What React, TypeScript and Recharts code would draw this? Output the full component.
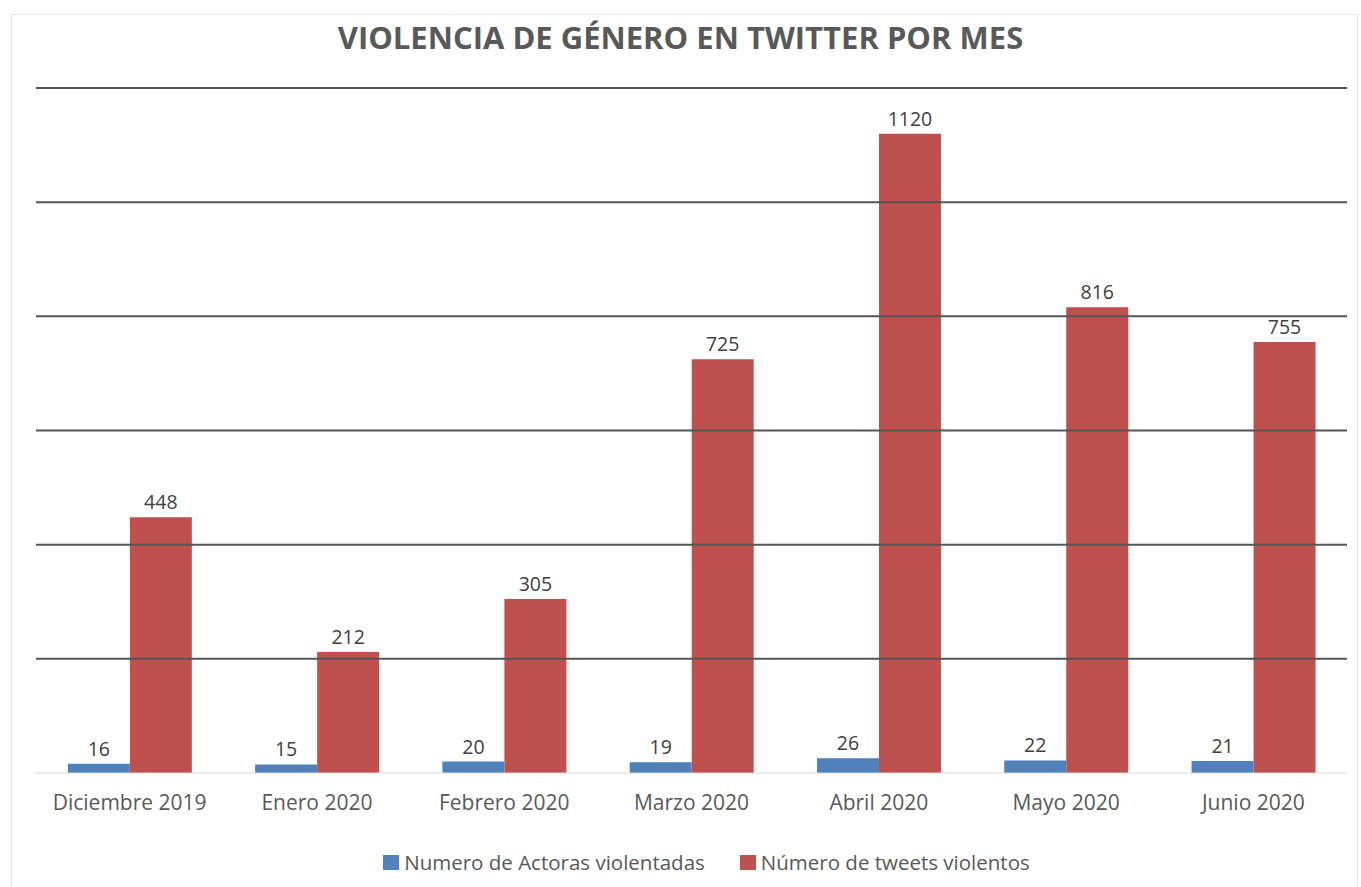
import { BarChart, Bar, XAxis, YAxis, ReferenceLine, Legend, LabelList } from "recharts";

const months = [
  "Diciembre 2019",
  "Enero 2020",
  "Febrero 2020",
  "Marzo 2020",
  "Abril 2020",
  "Mayo 2020",
  "Junio 2020",
];
const actoras = [16, 15, 20, 19, 26, 22, 21];
const tweets = [448, 212, 305, 725, 1120, 816, 755];
const yTicks = [0, 200, 400, 600, 800, 1000, 1200];

const data = months.map((m, i) => ({ month: m, actoras: actoras[i], tweets: tweets[i] }));

const FONT = "'Open Sans', sans-serif";

function CustomLegend(props: any) {
  const { payload } = props;
  return (
    <div
      style={{
        display: "flex",
        justifyContent: "center",
        paddingTop: 3,
        paddingLeft: 30,
        fontFamily: FONT,
        fontSize: 20.5,
        color: "#595959",
      }}
    >
      {payload.map((p: any, i: number) => (
        <div key={i} style={{ display: "flex", alignItems: "center", marginRight: i === 0 ? 35 : 0 }}>
          <span style={{ width: 16, height: 15, background: p.color, display: "inline-block", marginRight: 5 }} />
          <span>{p.value}</span>
        </div>
      ))}
    </div>
  );
}

export default function App() {
  return (
    <div style={{ position: "absolute", left: 0, top: 0, width: 1361, height: 887, background: "#fff", overflow: "hidden" }}>
      <div
        style={{
          position: "absolute",
          left: 11,
          top: 14,
          width: 1345,
          height: 880,
          borderTop: "1px solid #e6e6e6",
          borderLeft: "1px solid #e6e6e6",
          borderRight: "1px solid #e6e6e6",
        }}
      />
      <div
        style={{
          position: "absolute",
          left: 0,
          top: 16,
          width: 1361,
          textAlign: "center",
          fontFamily: FONT,
          fontWeight: 700,
          fontSize: 31,
          color: "#595959",
        }}
      >
        VIOLENCIA DE GÉNERO EN TWITTER POR MES
      </div>
      <div style={{ position: "absolute", left: 0, top: 0 }}>
        <BarChart
          width={1361}
          height={887}
          data={data}
          margin={{ top: 88, right: 14, left: 36, bottom: 0 }}
          barCategoryGap="17%"
          barGap={0}
        >
          <XAxis
            dataKey="month"
            axisLine={{ stroke: "#d9d9d9", strokeWidth: 1 }}
            tickLine={false}
            tickMargin={16}
            height={72}
            interval={0}
            tick={{ fill: "#595959", fontSize: 21, fontFamily: FONT }}
          />
          <YAxis hide domain={[0, 1200]} ticks={yTicks} />
          {yTicks.slice(1).map((t) => (
            <ReferenceLine key={t} y={t} stroke="#555555" strokeWidth={2} />
          ))}
          <Legend verticalAlign="bottom" height={42} content={<CustomLegend />} />
          <Bar dataKey="actoras" name="Numero de Actoras violentadas" fill="#4F81BD" isAnimationActive={false}>
            <LabelList dataKey="actoras" position="top" offset={8} fill="#404040" fontSize={19.5} fontFamily={FONT} />
          </Bar>
          <Bar dataKey="tweets" name="Número de tweets violentos" fill="#C0504D" isAnimationActive={false}>
            <LabelList dataKey="tweets" position="top" offset={8} fill="#404040" fontSize={19.5} fontFamily={FONT} />
          </Bar>
        </BarChart>
      </div>
    </div>
  );
}
